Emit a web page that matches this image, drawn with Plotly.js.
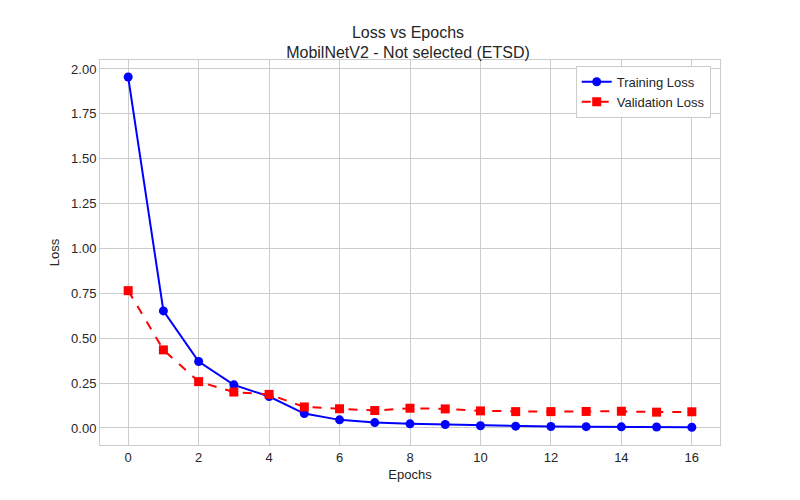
<!DOCTYPE html>
<html><head><script src="https://cdn.plot.ly/plotly-3.0.1.min.js"></script></head>
<body style="margin:0">
<div id="c" style="width:800px;height:500px"></div>
<script>
const epochs=[0,1,2,3,4,5,6,7,8,9,10,11,12,13,14,15,16];
const trainLoss=[1.955,0.652,0.37,0.24,0.175,0.08,0.045,0.03,0.023,0.019,0.012,0.01,0.008,0.007,0.006,0.005,0.004];
const valLoss=[0.765,0.435,0.258,0.2,0.187,0.117,0.107,0.097,0.11,0.106,0.095,0.091,0.091,0.092,0.093,0.088,0.09];
const yTicks=[0,0.25,0.5,0.75,1,1.25,1.5,1.75,2];
Plotly.newPlot('c',[
{x:epochs,y:trainLoss,name:'Training Loss',mode:'lines+markers',line:{color:'#0000ff',width:2},marker:{symbol:'circle',size:9,color:'#0000ff'}},
{x:epochs,y:valLoss,name:'Validation Loss',mode:'lines+markers',line:{color:'#ff0000',width:2,dash:'dash'},marker:{symbol:'square',size:9,color:'#ff0000'}}
],{
width:800,height:500,paper_bgcolor:'#fff',plot_bgcolor:'#fff',
font:{family:'Liberation Sans, Arial',size:13,color:'#262626'},
title:{text:'Loss vs Epochs<br>MobilNetV2 - Not selected (ETSD)',x:0.51,y:0.925,font:{size:16}},
margin:{l:100,r:80,t:60,b:55},
xaxis:{title:{text:'Epochs',standoff:6,font:{size:13}},range:[-0.8,16.8],tickvals:[0,2,4,6,8,10,12,14,16],showgrid:true,gridcolor:'#cccccc',zeroline:false,showline:true,linecolor:'#cccccc',mirror:true,ticks:'',ticklen:0},
yaxis:{title:{text:'Loss',standoff:8,font:{size:13}},range:[-0.095,2.05],tickvals:yTicks,tickformat:'.2f',showgrid:true,gridcolor:'#cccccc',zeroline:false,showline:true,linecolor:'#cccccc',mirror:true},
legend:{x:0.985,y:0.985,xanchor:'right',yanchor:'top',bgcolor:'#fff',bordercolor:'#cccccc',borderwidth:1,font:{size:13}},
showlegend:true
},{displayModeBar:false});
</script></body></html>
